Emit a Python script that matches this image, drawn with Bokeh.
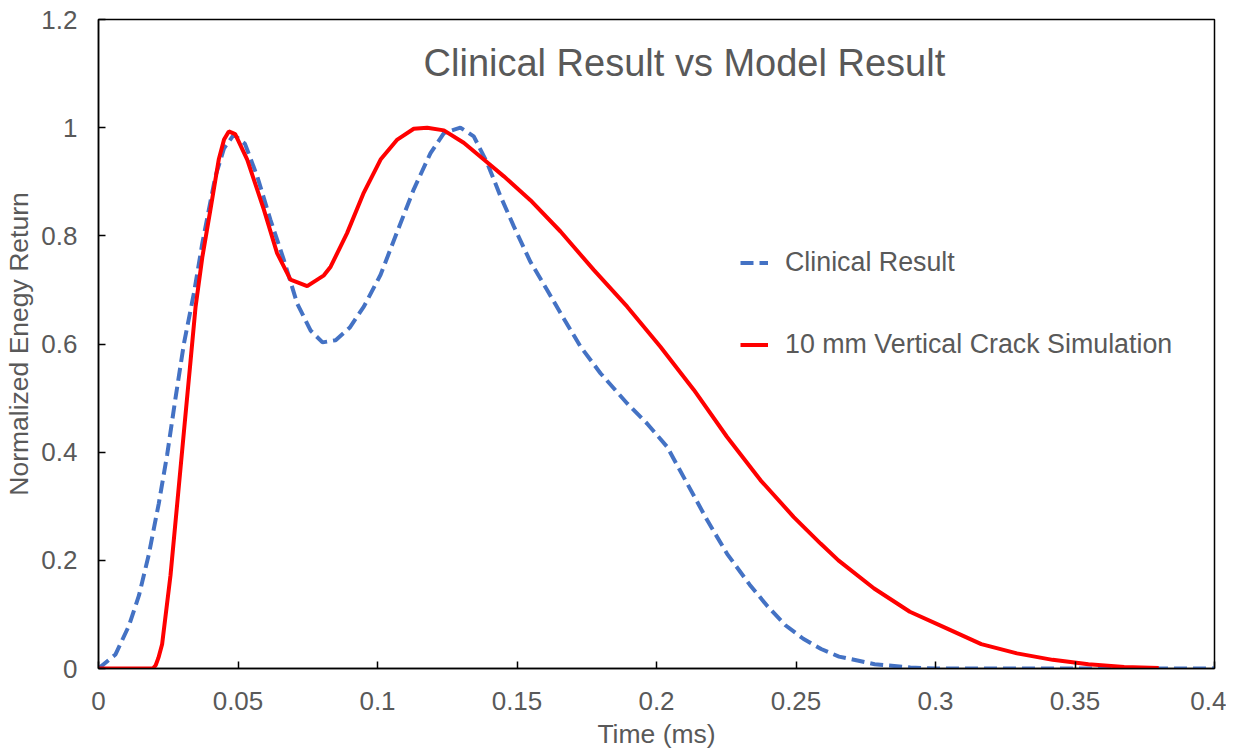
from bokeh.plotting import figure
from bokeh.models import FixedTicker, Label, Range1d
from bokeh.embed import file_html
from bokeh.resources import INLINE

# ---- data ----
clinical_t = [0, 0.0061, 0.0109, 0.0145, 0.0180, 0.0216, 0.0246, 0.0276, 0.0306, 0.0342,
              0.0372, 0.0400, 0.0419, 0.0450, 0.0485, 0.0525, 0.0569, 0.0616, 0.0664, 0.0712,
              0.0760, 0.0803, 0.0850, 0.0900, 0.0951, 0.1011, 0.1071, 0.1130, 0.1190, 0.1238,
              0.1297, 0.1345, 0.1393, 0.1441, 0.1489, 0.1548, 0.1608, 0.1656, 0.1728, 0.1799,
              0.1895, 0.1966, 0.2038, 0.2110, 0.2182, 0.2253, 0.2334, 0.2398, 0.2462, 0.2526,
              0.2590, 0.2654, 0.2782, 0.2910, 0.3000, 0.3500, 0.4000]
clinical_v = [0, 0.026, 0.079, 0.135, 0.210, 0.305, 0.395, 0.500, 0.600, 0.694,
              0.786, 0.860, 0.910, 0.962, 0.987, 0.970, 0.910, 0.830, 0.756, 0.675,
              0.625, 0.603, 0.607, 0.630, 0.669, 0.728, 0.808, 0.886, 0.953, 0.990,
              1.000, 0.984, 0.935, 0.873, 0.817, 0.752, 0.700, 0.657, 0.595, 0.546,
              0.490, 0.453, 0.410, 0.342, 0.274, 0.212, 0.155, 0.115, 0.080, 0.055,
              0.036, 0.022, 0.008, 0.002, 0, 0, 0]

sim_t = [0, 0.0195, 0.0205, 0.0215, 0.0228, 0.0258, 0.0282, 0.0306, 0.0330, 0.0348,
         0.0372, 0.0401, 0.0431, 0.0450, 0.0467, 0.0490, 0.0533, 0.0593, 0.0640, 0.0688,
         0.0748, 0.0808, 0.0832, 0.0891, 0.0951, 0.1011, 0.1071, 0.1130, 0.1178, 0.1238,
         0.1309, 0.1381, 0.1453, 0.1548, 0.1656, 0.1775, 0.1895, 0.2014, 0.2134, 0.2253,
         0.2373, 0.2492, 0.2588, 0.2652, 0.2780, 0.2908, 0.3036, 0.3164, 0.3292, 0.3420,
         0.3548, 0.3676, 0.3800]
sim_v = [0, 0, 0.006, 0.020, 0.045, 0.172, 0.304, 0.437, 0.569, 0.669,
         0.760, 0.848, 0.941, 0.978, 0.993, 0.988, 0.941, 0.848, 0.768, 0.719,
         0.707, 0.727, 0.743, 0.805, 0.880, 0.941, 0.978, 0.998, 1.000, 0.995,
         0.972, 0.941, 0.910, 0.866, 0.808, 0.737, 0.669, 0.595, 0.515, 0.428,
         0.348, 0.280, 0.231, 0.200, 0.148, 0.105, 0.075, 0.045, 0.028, 0.016,
         0.008, 0.003, 0.001]

x_ticks = [0, 0.05, 0.1, 0.15, 0.2, 0.25, 0.3, 0.35, 0.4]
x_tick_labels = ["0", "0.05", "0.1", "0.15", "0.2", "0.25", "0.3", "0.35", "0.4"]
y_ticks = [0, 0.2, 0.4, 0.6, 0.8, 1.0, 1.2]
y_tick_labels = ["0", "0.2", "0.4", "0.6", "0.8", "1", "1.2"]

title_text = "Clinical Result vs Model Result"
series_names = ["Clinical Result", "10 mm Vertical Crack Simulation"]

FONT = "Liberation Sans"
GRAY = "#595959"
TICK_FS = "26px"
LABEL_FS = "26.5px"

p = figure(width=1226, height=751, output_backend="svg", toolbar_location=None,
           x_range=Range1d(0, 0.4), y_range=Range1d(0, 1.2),
           min_border_left=98, min_border_right=12, min_border_top=19, min_border_bottom=83)

p.background_fill_color = "white"
p.border_fill_color = "white"
p.outline_line_color = "black"
p.outline_line_width = 1.5
p.grid.visible = False

p.line(clinical_t, clinical_v, line_color="#4472C4", line_width=4, line_dash="13 6",
       legend_label=series_names[0])
p.line(sim_t, sim_v, line_color="#FF0000", line_width=4, legend_label=series_names[1])

for ax, ticks, labels in ((p.xaxis[0], x_ticks, x_tick_labels), (p.yaxis[0], y_ticks, y_tick_labels)):
    ax.ticker = FixedTicker(ticks=ticks)
    ax.major_label_overrides = {t: l for t, l in zip(ticks, labels)}
    ax.minor_tick_line_color = None
    ax.major_tick_in = 7
    ax.major_tick_out = 0
    ax.major_tick_line_color = "black"
    ax.major_tick_line_width = 1.5
    ax.axis_line_color = "black"
    ax.axis_line_width = 1.5
    ax.major_label_text_font = FONT
    ax.major_label_text_font_size = TICK_FS
    ax.major_label_text_color = GRAY
    ax.axis_label_text_font = FONT
    ax.axis_label_text_font_size = LABEL_FS
    ax.axis_label_text_color = GRAY
    ax.axis_label_text_font_style = "normal"

p.xaxis.axis_label = "Time (ms)"
p.yaxis.axis_label = "Normalized Enegy Return"
p.xaxis.major_label_standoff = 23
p.xaxis.axis_label_standoff = 6
p.yaxis.major_label_standoff = 21
p.yaxis.axis_label_standoff = 4

p.add_layout(Label(x=0.210, y=1.12, text=title_text, text_align="center",
                   text_baseline="middle", text_font=FONT, text_font_size="38px",
                   text_color=GRAY))

lg = p.legend[0]
lg.location = (642, 308)
lg.border_line_color = None
lg.background_fill_alpha = 0
lg.padding = 0
lg.margin = 0
lg.spacing = 51
lg.glyph_width = 28
lg.glyph_height = 27
lg.label_height = 27
lg.label_standoff = 17
lg.label_text_font = FONT
lg.label_text_font_size = "26.8px"
lg.label_text_color = GRAY

open("out.html", "w").write(file_html(p, INLINE))
